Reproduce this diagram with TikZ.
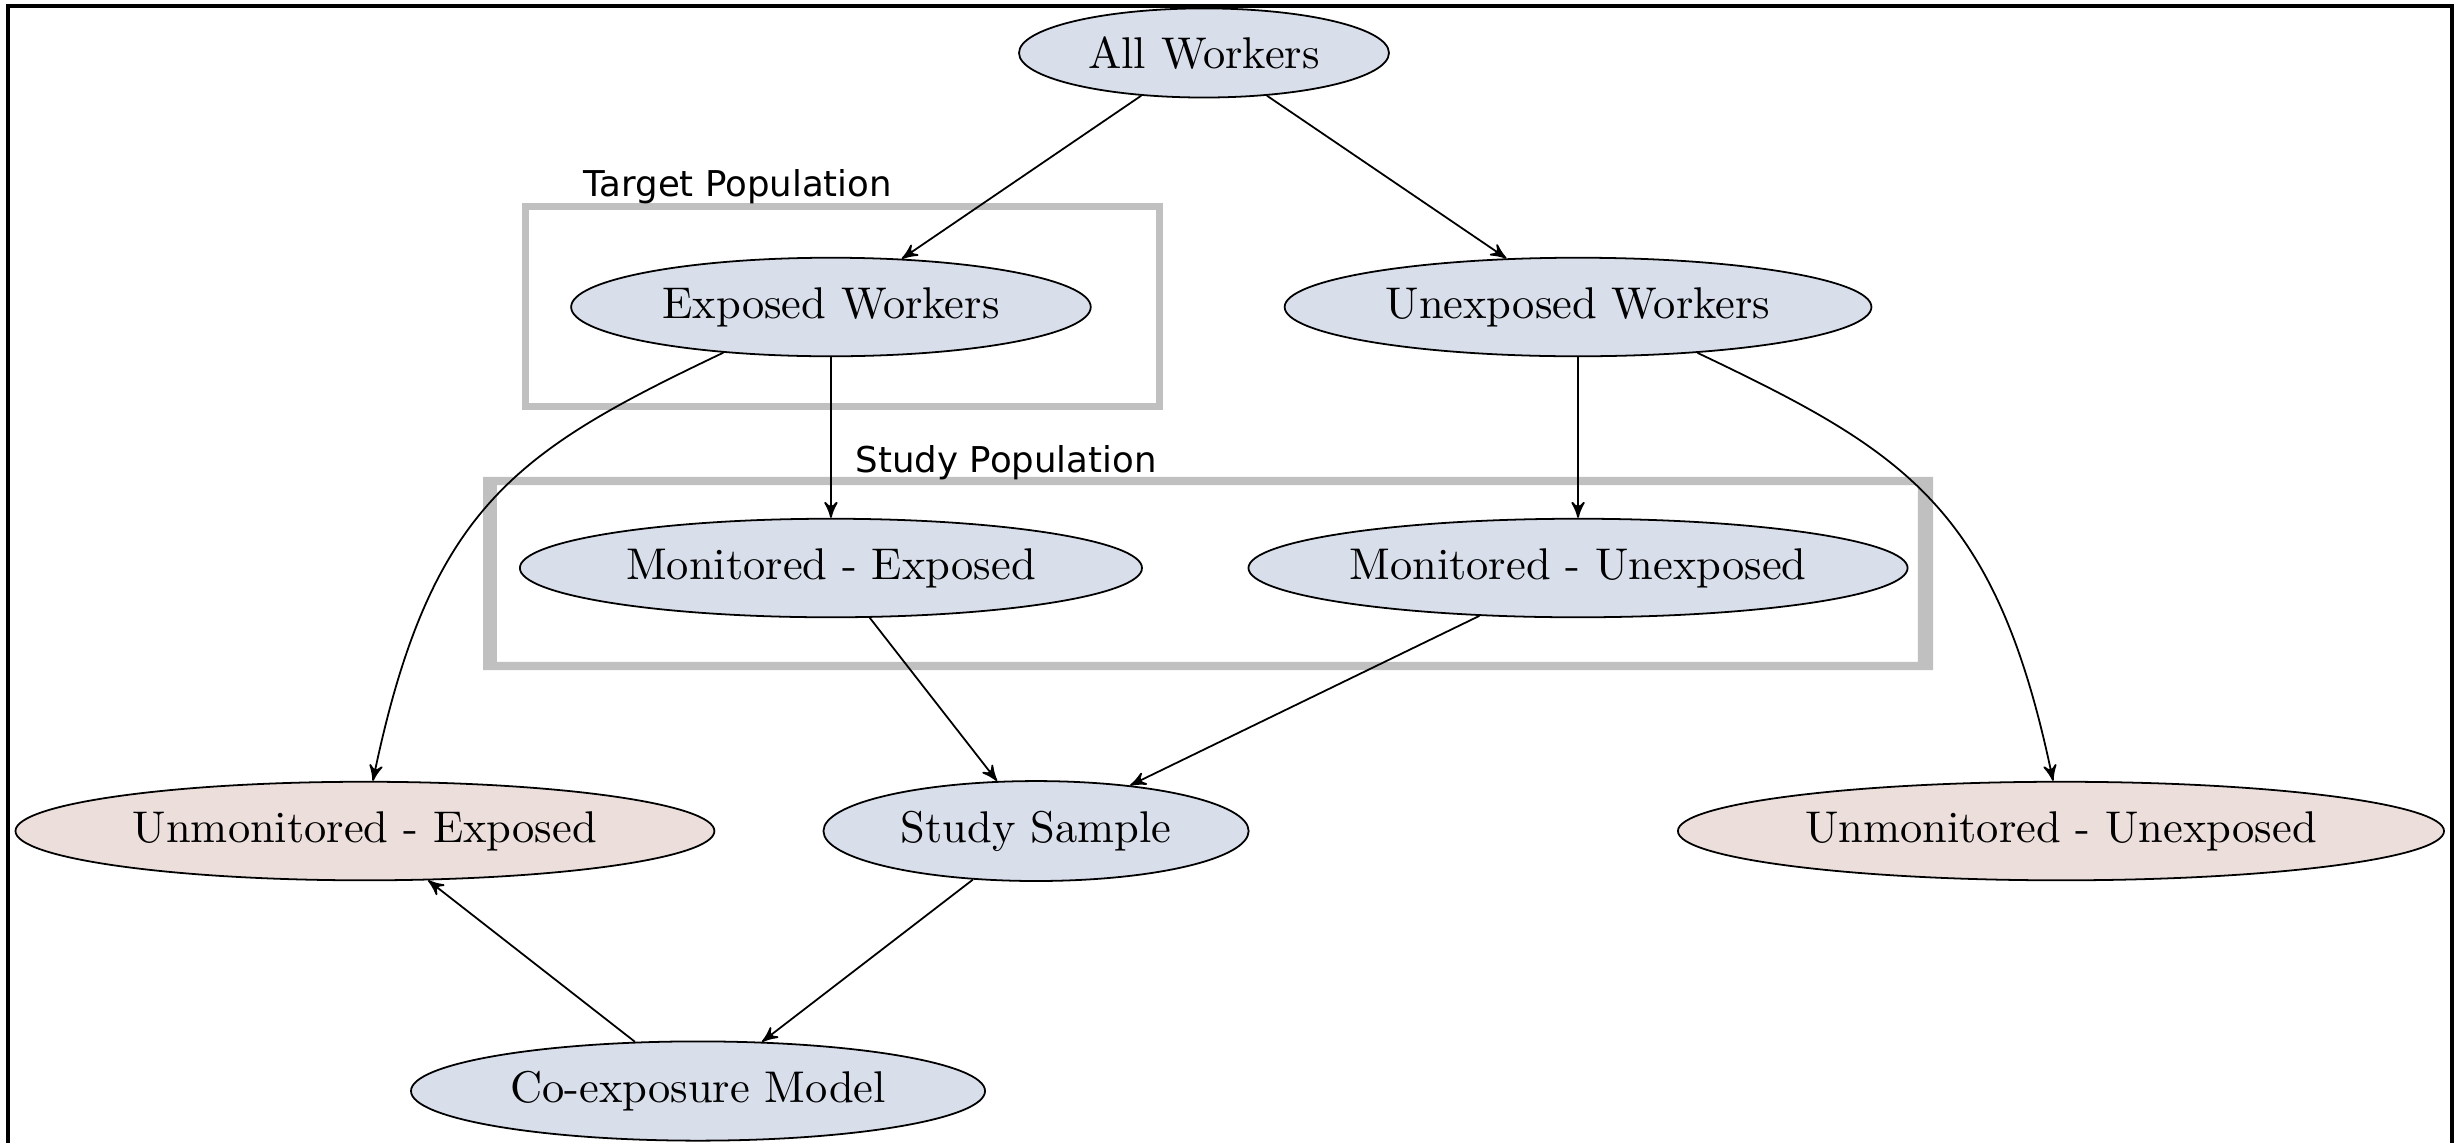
\documentclass[tikz,border=0pt]{standalone}
\usepackage{fontspec}
\newfontfamily\labelfont{DejaVu Sans}
\usepackage{tikz}
\usetikzlibrary{arrows}
\usetikzlibrary{positioning}
\usetikzlibrary{shapes}
\definecolor{popfill}{RGB}{217,222,235}
\definecolor{unmonfill}{RGB}{236,223,219}
\definecolor{boxgray}{RGB}{192,192,192}

\begin{document}
\begin{tikzpicture}[auto,node distance=2.064cm,>=stealth']
  \tikzstyle{popnode}=[ellipse, draw=black, fill=popfill, text=black, inner sep=3.4pt ]
  \tikzstyle{unmonnode}=[popnode, fill=unmonfill ]
  \tikzstyle{boxlabel}=[anchor=base west, inner sep=0pt, font=\labelfont\fontsize{8}{9.5}\selectfont ]
  \tikzstyle{link}=[->, black, line width=0.4pt ]

  \useasboundingbox (0,0) rectangle (19.414,9.039);
  \draw[line width=0.7pt] (0.063,0) -- (0.063,8.991) -- (19.39,8.991) -- (19.39,0);

  % population boxes
  \draw[boxgray, line width=1.575pt] (4.156,5.824) rectangle (9.169,7.406);
  \fill[boxgray, even odd rule] (3.820,3.740) rectangle (15.286,5.267) (3.930,3.804) rectangle (15.167,5.203);
  \node[boxlabel] (tp) at (4.610,7.481) {Target Population};
  \node[boxlabel] (sp) at (6.761,5.306) {Study Population};

  \node[popnode] at (9.521, 8.620) (A)            { All Workers };
  \node[popnode] at (6.571, 6.611) (B)            { Exposed Workers };
  \node[popnode] at (12.479, 6.611) (C)           { Unexposed Workers };
  \node[popnode]                   (D) [below of=B] { Monitored - Exposed };
  \node[popnode, inner xsep=1pt]   (E) [below of=C] { Monitored - Unexposed };
  \node[unmonnode] at (2.886, 2.467) (F)          { Unmonitored - Exposed };
  \node[popnode] at (8.193, 2.467) (G)            { Study Sample };
  \node[unmonnode] at (16.298, 2.467) (H)         { Unmonitored - Unexposed };
  \node[popnode] at (5.520, 0.411) (I)            { Co-exposure Model };

  \draw[link] (A) -- (B);
  \draw[link] (A) -- (C);
  \draw[link] (B) -- (D);
  \draw[link] (C) -- (E);
  \draw[link] (B.203) .. controls +(-1.645,-0.783) and +(0.451,2.167) .. (F.81);
  \draw[link] (C.339) .. controls +(1.645,-0.783) and +(-0.451,2.167) .. (H.99);
  \draw[link] (D) -- (G);
  \draw[link] (E) -- (G);
  \draw[link] (G) -- (I);
  \draw[link] (I) -- (F);
\end{tikzpicture}
\end{document}
